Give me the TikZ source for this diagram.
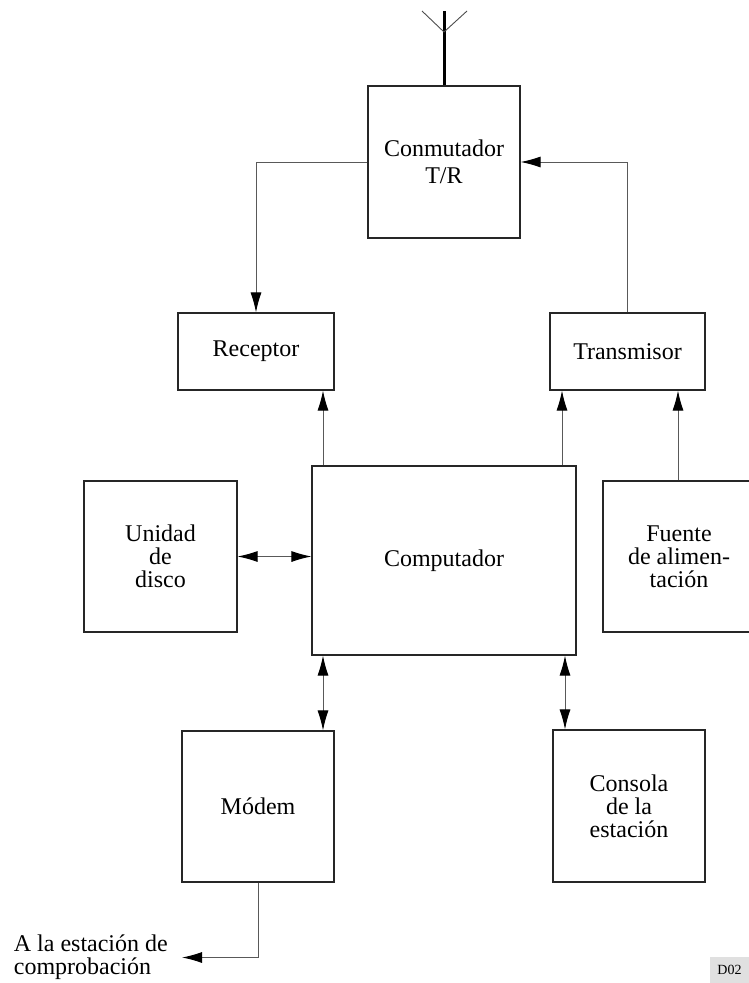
\documentclass[tikz,border=0pt]{standalone}
\usepackage{fontspec}
\setmainfont{Liberation Serif}
\usetikzlibrary{arrows.meta,positioning}

\begin{document}
\begin{tikzpicture}[x=1pt,y=-1pt,
  block/.style 2 args={draw=black!85,line width=1.1pt,minimum width=#1,minimum height=#2,
    inner sep=0pt,align=center,font=\fontsize{24}{23}\selectfont},
  arr/.style={draw=black!65,line width=1pt,-{Latex[length=20pt,width=11pt,color=black]}},
  dbl/.style={draw=black!65,line width=1pt,{Latex[length=20pt,width=11pt,color=black]}-{Latex[length=20pt,width=11pt,color=black]}},
  mast/.style={line width=3pt}]
\useasboundingbox (0,0) rectangle (749,983);
\clip (0,0) rectangle (749,983);

% blocks
\node[block={152pt}{152pt},font=\fontsize{24}{27}\selectfont] (conm) at (444,162) {Conmutador\\T/R};
\node[block={156pt}{77pt}] (recep) at (256,351.5) {Receptor};
\node[block={155pt}{77pt}] (trans) at (627.5,351.5) {Transmisor};
\node[block={264pt}{189pt}] (comp) at (444,560.5) {Computador};
\node[block={153pt}{151pt}] (disco) at (160.5,556.5) {Unidad\\de\\disco};
\node[block={152pt}{151pt}] (fuente) at (679,556.5) {Fuente\\de alimen-\\tación};
\node[block={152pt}{151pt}] (modem) at (258,806.5) {Módem};
\node[block={152pt}{152pt}] (consola) at (629,806) {Consola\\de la\\estación};

% antenna
\coordinate (tope) at (444,11);
\coordinate (vertice) at (444,32);
\draw[mast] (conm.north) -- (tope);
\draw[black!70,line width=0.9pt] (vertice) -- ++(-22,-21);
\draw[black!70,line width=0.9pt] (vertice) -- ++(23,-21);

% helper columns
\coordinate (rx) at (323,0);
\coordinate (tx) at (562,0);
\coordinate (cx) at (565,0);
\coordinate (fx) at (678,0);

\draw[arr] (conm.west) -| (recep.north);
\draw[arr] (trans.north) |- (conm.east);
\draw[arr] (comp.north -| rx) -- (recep.south -| rx);
\draw[arr] (comp.north -| tx) -- (trans.south -| tx);
\draw[arr] (fuente.north -| fx) -- (trans.south -| fx);
\draw[dbl] (disco.east) -- (comp.west |- disco.east);
\draw[dbl] (comp.south -| rx) -- (modem.north -| rx);
\draw[dbl] (comp.south -| cx) -- (consola.north -| cx);

% output to the checking station
\coordinate (salida) at (182,957.5);
\node[left=14pt of salida,align=left,inner sep=0pt,font=\fontsize{24}{23}\selectfont] (destino) {A la estación de\\comprobación};
\draw[arr] (modem.south) |- (salida);

\node[fill=black!12,minimum width=39pt,minimum height=26pt,inner sep=0pt,font=\fontsize{14}{16}\selectfont] (ref) at (729.5,970) {D02};
\end{tikzpicture}
\end{document}
